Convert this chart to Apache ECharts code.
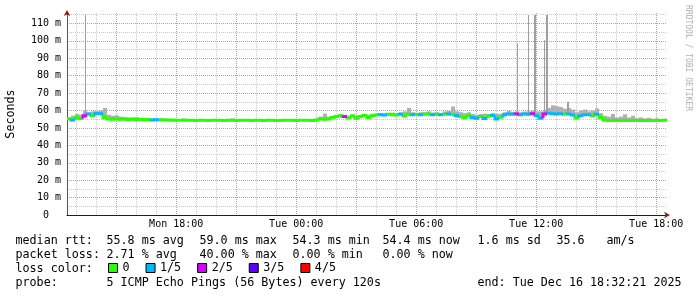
<!DOCTYPE html>
<html><head><meta charset="utf-8">
<script src="https://cdn.jsdelivr.net/npm/echarts@6/dist/echarts.min.js"></script>
<style>html,body{margin:0;padding:0;background:#fff}#c{width:697px;height:297px}</style>
</head><body><div id="c"></div>
<script>
// ---- data (RRD style: start + fixed step) ----
const startHour = 12.5392;   // Mon 12:32:21 (hours since Mon 00:00)
const endHour = 42.5392;     // Tue 18:32:21
const stepHours = 0.2;       // one consolidated value every 12 min

const medianRtt = [
  55.2, 54.6, 56.0, 55.4, 57.0, 58.0, 57.2, 58.4, 58.2, 56.0,
  55.2, 55.0, 55.2, 55.0, 55.0, 54.9, 55.0, 54.9, 54.9, 54.8,
  54.8, 54.6, 54.7, 54.7, 54.6, 54.6, 54.5, 54.4, 54.4, 54.5,
  54.4, 54.4, 54.3, 54.4, 54.4, 54.3, 54.4, 54.4, 54.4, 54.3,
  54.4, 54.4, 54.3, 54.4, 54.4, 54.4, 54.3, 54.4, 54.4, 54.3,
  54.4, 54.4, 54.3, 54.3, 54.4, 54.4, 54.4, 54.3, 54.4, 54.4,
  54.4, 54.3, 54.5, 55.3, 55.0, 55.2, 56.0, 56.6, 57.0, 56.5,
  55.8, 56.8, 55.6, 56.6, 57.2, 56.0, 57.0, 57.4, 57.6, 57.4,
  57.8, 57.6, 57.4, 57.8, 57.0, 57.8, 57.6, 57.8, 57.6, 57.8,
  58.0, 57.6, 57.8, 57.6, 57.8, 58.0, 57.8, 57.2, 56.5, 56.0,
  57.0, 56.0, 55.5, 56.5, 55.4, 56.8, 57.2, 55.2, 56.2, 57.6,
  58.0, 57.8, 58.0, 57.6, 58.0, 57.8, 58.2, 57.2, 55.5, 58.0,
  58.4, 58.2, 58.0, 58.2, 57.8, 58.0, 57.4, 55.8, 57.0, 57.6,
  57.6, 57.2, 57.8, 56.0, 54.6, 54.3, 54.3, 54.2, 54.3, 54.3,
  54.2, 54.3, 54.3, 54.2, 54.3, 54.2, 54.3, 54.3, 54.2, 54.4
];
const lossCount = [
  0, 1, 0, 0, 2, 1, 0, 1, 1, 0,
  0, 0, 0, 0, 0, 0, 0, 0, 0, 0,
  0, 1, 1, 0, 0, 0, 0, 0, 0, 0,
  0, 0, 0, 0, 0, 0, 0, 0, 0, 0,
  0, 0, 0, 0, 0, 0, 0, 0, 0, 0,
  0, 0, 0, 0, 0, 0, 0, 0, 0, 0,
  0, 0, 0, 0, 0, 0, 0, 0, 0, 2,
  0, 0, 0, 0, 0, 0, 0, 0, 1, 1,
  0, 0, 0, 1, 0, 0, 1, 0, 1, 0,
  0, 1, 0, 1, 0, 1, 0, 1, 0, 0,
  0, 1, 1, 0, 1, 0, 1, 1, 0, 1,
  1, 1, 2, 1, 1, 1, 2, 1, 1, 2,
  1, 1, 1, 1, 0, 1, 1, 0, 1, 1,
  1, 0, 1, 0, 0, 0, 0, 0, 0, 0,
  0, 0, 0, 0, 0, 0, 0, 0, 0, 0
];
const smokeHi = [
  56.0, 57.0, 58.0, 57.5, 60.0, 59.0, 59.5, 59.5, 60.0, 61.5,
  57.5, 57.0, 57.2, 56.5, 56.3, 56.0, 56.0, 56.2, 55.8, 55.6,
  55.5, 55.4, 55.4, 55.5, 55.3, 55.2, 55.1, 55.0, 55.0, 55.1,
  55.0, 55.0, 55.0, 55.1, 55.0, 55.0, 55.0, 55.0, 55.0, 55.0,
  55.0, 55.5, 55.0, 55.0, 55.0, 55.0, 55.0, 55.0, 55.0, 55.0,
  55.0, 55.0, 55.0, 55.0, 55.0, 55.0, 55.0, 55.0, 55.0, 55.0,
  55.0, 55.0, 55.2, 56.5, 58.2, 56.5, 57.0, 57.4, 57.8, 57.5,
  57.0, 57.8, 57.0, 57.6, 58.0, 57.5, 58.0, 58.2, 58.4, 58.2,
  58.6, 58.8, 58.4, 59.0, 59.5, 61.5, 59.0, 58.6, 59.0, 59.0,
  59.5, 58.8, 59.0, 58.6, 59.5, 59.8, 62.3, 59.5, 59.0, 58.5,
  59.0, 58.0, 57.5, 58.0, 58.2, 58.0, 58.5, 58.2, 58.0, 59.0,
  59.8, 59.2, 59.5, 59.0, 59.4, 59.5, 60.0, 59.4, 59.5, 60.5,
  61.5, 63.0, 62.5, 62.0, 61.0, 61.5, 60.5, 59.0, 60.0, 60.5,
  59.5, 60.0, 61.2, 58.5, 57.0, 56.5, 58.0, 56.0, 56.5, 57.8,
  56.0, 57.0, 55.6, 56.0, 55.5, 55.8, 55.3, 55.5, 55.2, 55.2
];
// single-ping outliers: [hour, rtt ms]
const spikes = [
  [13.4392, 114.8],
  [35.0392, 98.6],
  [35.5892, 114.8],
  [35.8892, 114.8], [35.9392, 114.8],
  [36.3892, 100.3],
  [36.4892, 114.8], [36.5392, 114.8],
  [37.5392, 65.0], [37.5892, 65.0]
];
const tickHours = [18, 24, 30, 36, 42];
const tickLabels = ['Mon 18:00', 'Tue 00:00', 'Tue 06:00', 'Tue 12:00', 'Tue 18:00'];
const gridHours = [13,14,15,16,17,18,19,20,21,22,23,24,25,26,27,28,29,30,31,32,33,34,35,36,37,38,39,40,41,42];
const lossNames = ['0', '1/5', '2/5', '3/5', '4/5'];

const rttLine = ['median rtt:', '55.8 ms avg', '59.0 ms max', '54.3 ms min', '54.4 ms now', '1.6 ms sd', '35.6', 'am/s'];
const lossLine = ['packet loss:', '2.71 % avg', '40.00 % max', '0.00 % min', '0.00 % now'];
const colorLine = ['loss color:'];
const probeLine = ['probe:', '5 ICMP Echo Pings (56 Bytes) every 120s', 'end: Tue Dec 16 18:32:21 2025'];

// ---- layout / style ----
const lossColors = ['#26ff00', '#00b8ff', '#d800ff', '#5a00ff', '#ff0000'];
const MONO = '"DejaVu Sans Mono", monospace';
const rttX = [15.5, 106.5, 199.5, 292.5, 382.5, 477.5, 556.5, 606.5];
const lossX = [15.5, 106.5, 199.5, 292.5, 382.5];
const colorX = [15.5];
const probeX = [15.5, 106.5, 477.5];
const lineY = [241, 255, 269, 283];
const RED_GRID = '#e08e8e';
const GRAY_GRID = '#c8c8c8';

const chart = echarts.init(document.getElementById('c'), null, {width: 697, height: 297});

const smokeData = medianRtt.map((m, i) => [startHour + i * stepHours, m, smokeHi[i]]);
const spikeData = spikes.map(([t, v]) => {
  const idx = Math.min(medianRtt.length - 1, Math.floor((t - startHour) / stepHours));
  return [t, medianRtt[idx], v];
});

function medianSeries(k) {
  const data = [];
  medianRtt.forEach((m, i) => {
    if (lossCount[i] === k) data.push([startHour + i * stepHours, m, i > 0 ? medianRtt[i - 1] : m]);
  });
  return {
    type: 'custom', name: lossNames[k], coordinateSystem: 'cartesian2d', z: 4,
    itemStyle: {color: lossColors[k]},
    encode: {x: 0, y: 1},
    data: data,
    silent: true,
    renderItem: function (params, api) {
      const t = api.value(0), m = api.value(1), pm = api.value(2);
      const p0 = api.coord([t, pm]);
      const p1 = api.coord([t, m]);
      const p2 = api.coord([t + stepHours, m]);
      return {type: 'polyline', shape: {points: [p0, p1, p2]},
        style: {stroke: lossColors[k], lineWidth: 3, fill: null, lineJoin: 'miter'}};
    }
  };
}

function barRender(widthHours, color) {
  return function (params, api) {
    const t = api.value(0), lo = api.value(1), hi = api.value(2);
    const a = api.coord([t, hi]);
    const b = api.coord([t + widthHours, lo]);
    return {type: 'rect', shape: {x: a[0], y: a[1], width: b[0] - a[0], height: b[1] - a[1]},
      style: {fill: color}};
  };
}

const graphics = [];
function addLine(texts, xs, y) {
  texts.forEach((t, i) => graphics.push({type: 'text', x: xs[i], y: y, silent: true,
    style: {text: t, font: '11.7px ' + MONO, fill: '#000', verticalAlign: 'middle', align: 'left'}}));
}
addLine(rttLine, rttX, lineY[0]);
addLine(lossLine, lossX, lineY[1]);
addLine(colorLine, colorX, lineY[2]);
addLine(probeLine, probeX, lineY[3]);
graphics.push({type: 'text', x: 688, y: 5, rotation: -Math.PI / 2, silent: true,
  style: {text: 'RRDTOOL / TOBI OETIKER', font: '8px ' + MONO, fill: '#b0b0b0', align: 'left', verticalAlign: 'middle'}});

const series = [
  {type: 'custom', coordinateSystem: 'cartesian2d', z: 2, silent: true, encode: {x: 0, y: 1},
    data: smokeData, renderItem: barRender(stepHours, '#b0b0b0')},
  {type: 'custom', coordinateSystem: 'cartesian2d', z: 2, silent: true, encode: {x: 0, y: 1},
    data: spikeData, renderItem: barRender(0.05, '#a0a0a0')}
];
for (let k = 0; k < lossNames.length; k++) series.push(medianSeries(k));

const ySplitColors = [];
for (let v = 0; v <= 115; v += 5) ySplitColors.push(v % 10 === 0 ? RED_GRID : GRAY_GRID);
ySplitColors.push('rgba(0,0,0,0)');

chart.setOption({
  animation: false,
  backgroundColor: '#fff',
  grid: {left: 67, right: 30, top: 13, bottom: 82, containLabel: false, outerBoundsMode: 'none'},
  legend: {
    data: lossNames, left: 108, top: 262, padding: 0, itemGap: 16,
    itemWidth: 9, itemHeight: 9, icon: 'rect', selectedMode: false,
    itemStyle: {borderColor: '#000', borderWidth: 1},
    textStyle: {fontFamily: MONO, fontSize: 11.7, color: '#000'}
  },
  xAxis: [{
    type: 'value', min: startHour, max: endHour,
    axisLine: {show: true, onZero: false, lineStyle: {color: '#1f1f1f', width: 1}},
    axisTick: {show: false, customValues: gridHours},
    axisLabel: {customValues: tickHours, margin: 4, fontFamily: MONO, fontSize: 10, color: '#000',
      formatter: v => tickLabels[tickHours.indexOf(Math.round(v))] || ''},
    splitLine: {show: true, lineStyle: {color: [GRAY_GRID, GRAY_GRID, RED_GRID], type: [1, 1], width: 1}}
  }, {
    type: 'value', min: startHour, max: endHour, position: 'bottom',
    axisLine: {show: true, onZero: false, lineStyle: {color: '#8b1c1c', width: 0},
      symbol: ['none', 'arrow'], symbolSize: [5, 6], symbolOffset: [0, 3]},
    axisTick: {show: false}, axisLabel: {show: false}, splitLine: {show: false}
  }],
  yAxis: [{
    type: 'value', min: 0, max: 116, interval: 5,
    name: 'Seconds', nameLocation: 'middle', nameRotate: 90, nameGap: 50,
    nameTextStyle: {fontFamily: MONO, fontSize: 11.7, color: '#000'},
    axisLine: {show: true, onZero: false, lineStyle: {color: '#555', width: 1}},
    axisTick: {show: false},
    axisLabel: {margin: 6, fontFamily: MONO, fontSize: 10, color: '#000',
      formatter: v => (v % 10 === 0 ? (v === 0 ? '0  ' : v + ' m') : '')},
    splitLine: {show: true, showMaxLine: false, lineStyle: {color: ySplitColors, type: [1, 1], width: 1}}
  }, {
    type: 'value', min: 0, max: 116, position: 'left',
    axisLine: {show: true, onZero: false, lineStyle: {color: '#8b1c1c', width: 0},
      symbol: ['none', 'arrow'], symbolSize: [5, 6], symbolOffset: [0, 3]},
    axisTick: {show: false}, axisLabel: {show: false}, splitLine: {show: false}
  }],
  series: series,
  graphic: {elements: graphics}
});
</script>
</body></html>
